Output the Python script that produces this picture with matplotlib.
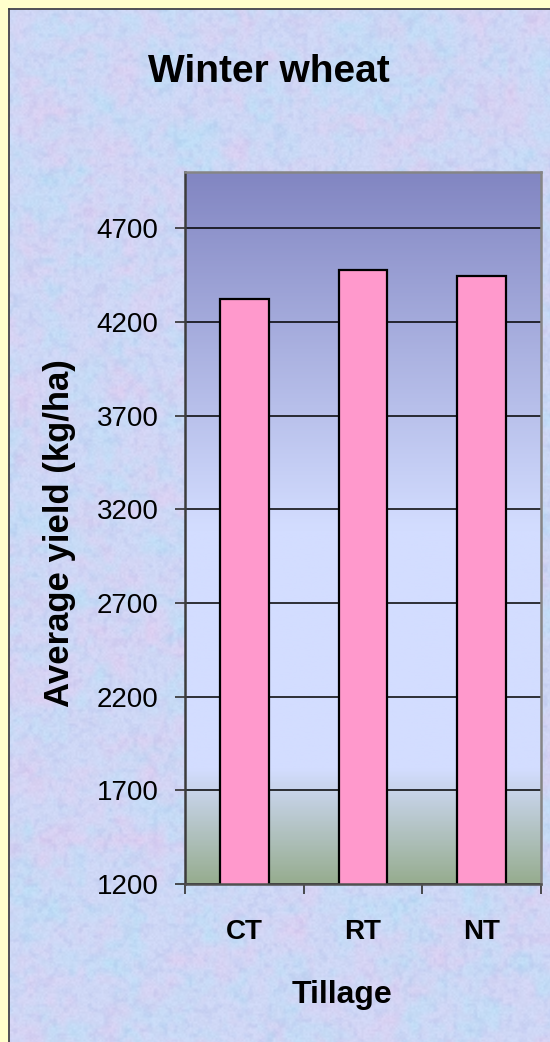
import numpy as np
import matplotlib
matplotlib.use("Agg")
import matplotlib.pyplot as plt
from matplotlib.colors import LinearSegmentedColormap, to_rgb
from matplotlib.patches import Rectangle

plt.rcParams['font.family'] = ['Liberation Sans', 'DejaVu Sans']

# Average winter wheat yield by tillage system
tillage = ['CT', 'RT', 'NT']
yields = [4320, 4475, 4445]
y_ticks = [1200, 1700, 2200, 2700, 3200, 3700, 4200, 4700]
y_min, y_max = 1200, 5000

W, H = 550, 1042


def value_noise(h, w, cell, rng):
    """Smooth value noise, bilinear between random lattice points."""
    g = rng.random((h // cell + 2, w // cell + 2))
    ys = np.arange(h) / cell
    xs = np.arange(w) / cell
    y0 = ys.astype(int)
    x0 = xs.astype(int)
    fy = (ys - y0)[:, None]
    fx = (xs - x0)[None, :]
    fy = fy * fy * (3 - 2 * fy)
    fx = fx * fx * (3 - 2 * fx)
    a = g[np.ix_(y0, x0)]
    b = g[np.ix_(y0, x0 + 1)]
    c = g[np.ix_(y0 + 1, x0)]
    d = g[np.ix_(y0 + 1, x0 + 1)]
    return a * (1 - fx) * (1 - fy) + b * fx * (1 - fy) + c * (1 - fx) * fy + d * fx * fy


# soft granite-like slide background
rng = np.random.default_rng(11)
base = np.array(to_rgb('#CFD8F6'))
pink = np.array(to_rgb('#DDD0F2'))
cyan = np.array(to_rgb('#BEDFF7'))
deep = np.array(to_rgb('#BCC6EE'))
p = np.clip((value_noise(H, W, 30, rng) * 0.6 + value_noise(H, W, 10, rng) * 0.4 - 0.4) * 1.8, 0, 1)
c = np.clip((value_noise(H, W, 26, rng) * 0.6 + value_noise(H, W, 9, rng) * 0.4 - 0.4) * 1.8, 0, 1)
d = np.clip((value_noise(H, W, 5, rng) - 0.5) * 2.0, 0, 1)
grain = value_noise(H, W, 2, rng) - 0.5
tex = (base[None, None, :]
       + (pink - base)[None, None, :] * p[..., None]
       + (cyan - base)[None, None, :] * c[..., None]
       + (deep - base)[None, None, :] * d[..., None] * 0.5
       + grain[..., None] * 0.03)
tex = np.clip(tex, 0, 1)

fig = plt.figure(figsize=(W / 100, H / 100), dpi=100)
bg = fig.add_axes([0, 0, 1, 1])
bg.imshow(tex, extent=[0, W, H, 0], aspect='auto', interpolation='bilinear')
bg.set_xlim(0, W)
bg.set_ylim(H, 0)
bg.axis('off')

# yellow slide frame
yellow = '#FFFFCC'
bg.add_patch(Rectangle((0, 0), W, 8, color=yellow, lw=0))
bg.add_patch(Rectangle((0, 0), 8, H, color=yellow, lw=0))
bg.plot([8.5, 8.5], [8.5, H], color='#3a3a3a', lw=1.2)
bg.plot([8.5, W], [8.5, 8.5], color='#3a3a3a', lw=1.2)

# plot area
left, right, top, bottom = 185, 541, 172, 884
ax = fig.add_axes([left / W, 1 - bottom / H, (right - left) / W, (bottom - top) / H])

grad_cmap = LinearSegmentedColormap.from_list(
    'wall', [(0.0, '#97AD90'), (0.16, '#D3DDFF'), (0.50, '#D3DDFF'), (1.0, '#8286C2')])
grad = np.linspace(0, 1, 400)[:, None]
ax.imshow(grad, cmap=grad_cmap, extent=[-0.5, 2.5, y_min, y_max], origin='lower',
          aspect='auto', interpolation='bicubic', zorder=0)

x = np.arange(len(tillage))
ax.bar(x, yields, width=0.41, color='#FF99CC', edgecolor='black', linewidth=1.6, zorder=2)

ax.set_xlim(-0.5, 2.5)
ax.set_ylim(y_min, y_max)
ax.set_axisbelow(True)
ax.yaxis.grid(True, color='black', linewidth=1.1)

ax.set_yticks(y_ticks)
ax.set_yticklabels([str(v) for v in y_ticks], fontsize=20)
ax.tick_params(axis='y', length=7.2, width=1.2, color='#303030', pad=12)

ax.set_xticks(x)
ax.set_xticklabels(tillage, fontsize=20, fontweight='bold')
ax.set_xticks([-0.5, 0.5, 1.5, 2.5], minor=True)
ax.tick_params(axis='x', which='major', length=0, pad=25)
ax.tick_params(axis='x', which='minor', length=7.2, width=1.2, color='#303030')

ax.spines['left'].set_color('#3c3c3c')
ax.spines['bottom'].set_color('#505050')
ax.spines['top'].set_color('#858585')
ax.spines['right'].set_color('#858585')
for s in ax.spines.values():
    s.set_linewidth(1.8)

fig.text(269 / W, 1 - 82 / H, 'Winter wheat', fontsize=28, fontweight='bold',
         ha='center', va='baseline')
fig.text(60 / W, 1 - 533 / H, 'Average yield (kg/ha)', fontsize=25, fontweight='bold',
         rotation=90, ha='center', va='center')
fig.text(342 / W, 1 - 1003 / H, 'Tillage', fontsize=23, fontweight='bold',
         ha='center', va='baseline')

fig.savefig('out.png', dpi=100)
